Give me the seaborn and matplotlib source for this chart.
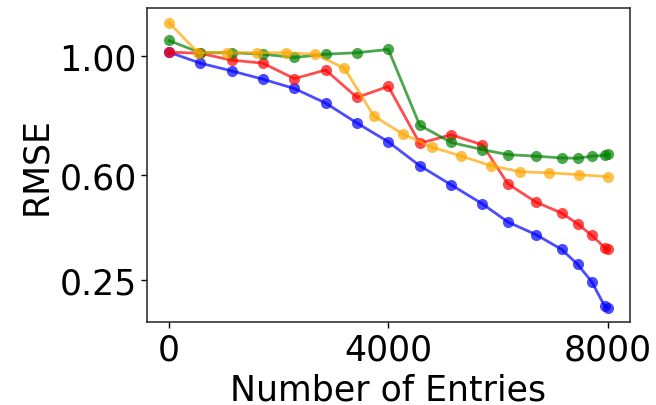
import matplotlib
matplotlib.use("Agg")
import matplotlib.pyplot as plt
import seaborn as sns
import pandas as pd

# x positions (number of entries) and RMSE values
x_even = [0, 571, 1143, 1714, 2286, 2857, 3429, 4000, 4571, 5143, 5714,
          6180, 6690, 7160, 7450, 7710, 7945, 8000]
x_orange = [0, 533, 1067, 1600, 2133, 2667, 3200, 3733, 4267, 4800, 5333,
            5867, 6400, 6933, 7467, 8000]

rmse_blue = [1.013, 0.976, 0.950, 0.922, 0.891, 0.842, 0.775, 0.712, 0.632,
             0.568, 0.504, 0.443, 0.401, 0.351, 0.301, 0.242, 0.160, 0.155]
rmse_red = [1.013, 1.009, 0.986, 0.976, 0.924, 0.953, 0.861, 0.898, 0.707,
            0.736, 0.702, 0.571, 0.510, 0.473, 0.437, 0.398, 0.357, 0.352]
rmse_green = [1.052, 1.011, 1.011, 1.006, 0.995, 1.006, 1.011, 1.022, 0.768,
              0.710, 0.686, 0.669, 0.664, 0.658, 0.657, 0.664, 0.667, 0.670]
rmse_orange = [1.112, 1.011, 1.011, 1.011, 1.011, 1.006, 0.959, 0.799, 0.738,
               0.694, 0.664, 0.632, 0.612, 0.608, 0.602, 0.595]

series = [
    ("blue", x_even, rmse_blue),
    ("red", x_even, rmse_red),
    ("green", x_even, rmse_green),
    ("orange", x_orange, rmse_orange),
]

sns.set_style("ticks")
plt.rcParams['font.family'] = ['DejaVu Sans']
plt.rcParams['text.color'] = 'black'
plt.rcParams['axes.labelcolor'] = 'black'
plt.rcParams['xtick.color'] = 'black'
plt.rcParams['ytick.color'] = 'black'

fig, ax = plt.subplots(figsize=(6.56, 4.06), dpi=100)
fig.subplots_adjust(left=0.224, right=0.960, top=0.977, bottom=0.204)

for color, xs, ys in series:
    df = pd.DataFrame({"Entries": xs, "RMSE": ys})
    sns.lineplot(data=df, x="Entries", y="RMSE", ax=ax, color=color,
                 marker="o", markersize=8, markeredgewidth=0,
                 linewidth=2, alpha=0.7)

ax.set_xticks([0, 4000, 8000])
ax.set_yticks([0.25, 0.60, 1.00])
ax.set_yticklabels(["0.25", "0.60", "1.00"])
ax.tick_params(labelsize=25, length=4, width=1)
ax.set_xlabel("Number of Entries", fontsize=25)
ax.set_ylabel("RMSE", fontsize=25)
for sp in ax.spines.values():
    sp.set_visible(True)
    sp.set_color("#333333")
    sp.set_linewidth(1.2)

fig.savefig("out.png", dpi=100)
